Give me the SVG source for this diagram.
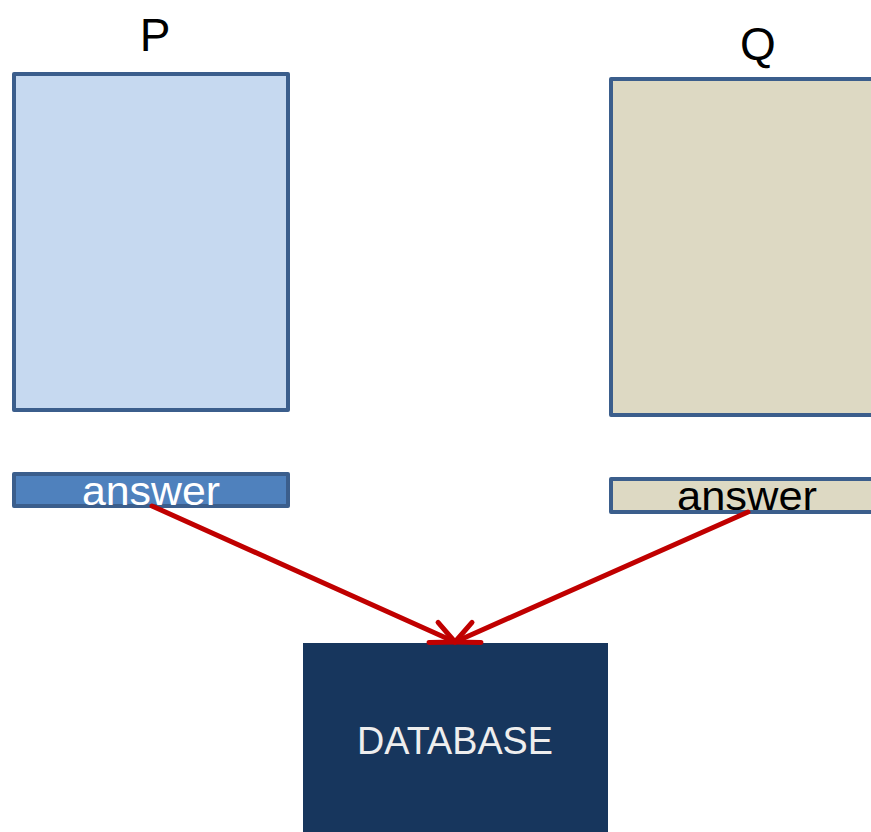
<svg xmlns="http://www.w3.org/2000/svg" width="871" height="832" viewBox="0 0 871 832">
<style>
.box{stroke:#3b5e8c;stroke-width:4;stroke-linejoin:round}
.lbl{font-family:"Liberation Sans",Arial,sans-serif;text-anchor:middle}
.conn{stroke:#c00000;stroke-width:5;fill:none;stroke-linecap:round}
</style>
<defs>
<marker id="v" markerUnits="userSpaceOnUse" orient="auto" markerWidth="40" markerHeight="40" refX="0" refY="0" viewBox="-30 -20 40 40" overflow="visible">
<path d="M -23.5 -11 L 0 0 L -23.5 11" fill="none" stroke="#c00000" stroke-width="5" stroke-linecap="round" stroke-linejoin="round"/>
</marker>
</defs>
<rect width="871" height="832" fill="#ffffff"/>
<g id="P">
<text class="lbl" x="155" y="51" font-size="46" fill="#000">P</text>
<rect class="box" x="14" y="74" width="274" height="336" fill="#c6d9f0"/>
</g>
<g id="Q">
<text class="lbl" x="758" y="60" font-size="46" fill="#000">Q</text>
<rect class="box" x="611" y="79" width="275" height="336" fill="#ddd9c3"/>
</g>
<g id="P-answer">
<rect class="box" x="14" y="474" width="274" height="32" fill="#4f81bd"/>
<text class="lbl" x="151" y="505" font-size="40" fill="#ffffff" textLength="138" lengthAdjust="spacingAndGlyphs">answer</text>
</g>
<g id="Q-answer">
<rect class="box" x="611" y="479" width="275" height="33" fill="#ddd9c3"/>
<text class="lbl" x="747" y="510" font-size="40" fill="#000000" textLength="140" lengthAdjust="spacingAndGlyphs">answer</text>
</g>
<g id="DATABASE">
<rect x="303" y="643" width="305" height="192" fill="#17365d"/>
<text class="lbl" x="455" y="754" font-size="38" fill="#eeeeee" textLength="196" lengthAdjust="spacingAndGlyphs">DATABASE</text>
</g>
<g id="connectors">
<line class="conn" x1="152" y1="506" x2="455" y2="642" marker-end="url(#v)"/>
<line class="conn" x1="748" y1="512" x2="455" y2="642" marker-end="url(#v)"/>
</g>
</svg>
